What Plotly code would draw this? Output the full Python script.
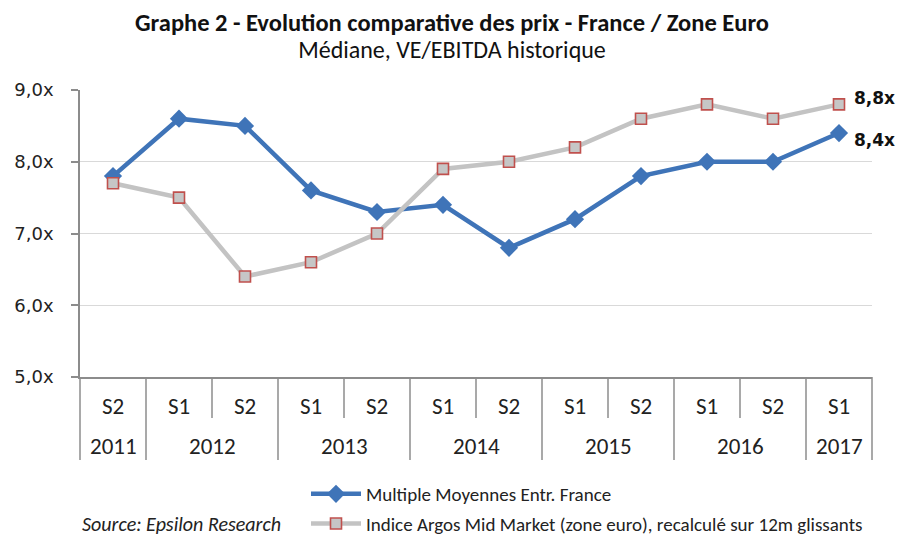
import plotly.graph_objects as go
from itertools import groupby

# ---- data ----
semesters = ["S2", "S1", "S2", "S1", "S2", "S1", "S2", "S1", "S2", "S1", "S2", "S1"]
years = ["2011", "2012", "2012", "2013", "2013", "2014", "2014", "2015", "2015", "2016", "2016", "2017"]
france_multiple = [7.8, 8.6, 8.5, 7.6, 7.3, 7.4, 6.8, 7.2, 7.8, 8.0, 8.0, 8.4]
argos_index = [7.7, 7.5, 6.4, 6.6, 7.0, 7.9, 8.0, 8.2, 8.6, 8.8, 8.6, 8.8]
y_ticks = [5.0, 6.0, 7.0, 8.0, 9.0]
series_names = ["Multiple Moyennes Entr. France",
                "Indice Argos Mid Market (zone euro), recalculé sur 12m glissants"]
title_text = "Graphe 2 - Evolution comparative des prix - France / Zone Euro"
subtitle_text = "Médiane, VE/EBITDA historique"
source_text = "Source: Epsilon Research"

def fmt(v):
    return f"{v:.1f}x".replace(".", ",")

categories = [f"{s} {y}" for s, y in zip(semesters, years)]
n = len(categories)

CAL = "Carlito, Lato, sans-serif"
VER = "DejaVu Sans, Verdana, sans-serif"
AXIS_GREY = "#8c8c8c"

# page body has an 8px margin: figure is laid out in page pixels minus that offset
PAGE_OFF = 8
W, H = 897, 528
PLOT_L, PLOT_R, PLOT_T, PLOT_B = 80, 872, 90, 377   # in page pixels
ML, MR = PLOT_L - PAGE_OFF, W - (PLOT_R - PAGE_OFF)
MT, MB = PLOT_T - PAGE_OFF, H - (PLOT_B - PAGE_OFF)
plot_h = PLOT_B - PLOT_T
plot_w = PLOT_R - PLOT_L

def py(page_y):
    return (PLOT_B - page_y) / plot_h

def px(page_x):
    return (page_x - PLOT_L) / plot_w

fig = go.Figure()
fig.add_trace(go.Scatter(
    x=categories, y=france_multiple, name=series_names[0], mode="lines+markers",
    line=dict(color="#3f74b8", width=4.5),
    marker=dict(symbol="diamond", size=14, color="#3f74b8"),
    legendgroup="a",
))
fig.add_trace(go.Scatter(
    x=categories, y=argos_index, name=series_names[1], mode="lines+markers",
    line=dict(color="#c3c3c3", width=4.5),
    marker=dict(symbol="square", size=11, color="#c6c6c6",
                line=dict(color="#c0504d", width=1.6)),
    legendgroup="b",
))

inner_depth = py(418)
outer_depth = py(460)

shapes = []
for k in range(n + 1):
    full = k == 0 or k == n or years[k] != years[k - 1]
    shapes.append(dict(type="line", xref="paper", yref="paper",
                       x0=k / n, x1=k / n, y0=0, y1=outer_depth if full else inner_depth,
                       line=dict(color=AXIS_GREY, width=1.5)))

annotations = []
for i, s in enumerate(semesters):
    annotations.append(dict(x=(i + 0.5) / n, y=py(406), xref="paper", yref="paper",
                            text=s, showarrow=False, xanchor="center", yanchor="middle",
                            font=dict(family=CAL, size=23, color="#222")))
idx = 0
for yr, grp in groupby(years):
    cnt = len(list(grp))
    annotations.append(dict(x=(idx + cnt / 2) / n, y=py(446), xref="paper", yref="paper",
                            text=yr, showarrow=False, xanchor="center", yanchor="middle",
                            font=dict(family=CAL, size=23, color="#222")))
    idx += cnt

# end labels
annotations.append(dict(x=categories[-1], y=argos_index[-1], xref="x", yref="y",
                        text=f"<b>{fmt(argos_index[-1])}</b>", showarrow=False,
                        xanchor="left", xshift=13, yshift=6,
                        font=dict(family=VER, size=17, color="#111")))
annotations.append(dict(x=categories[-1], y=france_multiple[-1], xref="x", yref="y",
                        text=f"<b>{fmt(france_multiple[-1])}</b>", showarrow=False,
                        xanchor="left", xshift=13, yshift=-7,
                        font=dict(family=VER, size=17, color="#111")))

# title + subtitle as one two-line text (line height from the base font size)
annotations.append(dict(
    x=px(452), y=py(36), xref="paper", yref="paper",
    text=(f"<span style='font-size:24.5px'><b>{title_text}</b></span><br>"
          f"<span style='font-size:24px'>{subtitle_text}</span>"),
    showarrow=False, xanchor="center", yanchor="middle",
    font=dict(family=CAL, size=20.5, color="#111")))

annotations.append(dict(x=px(80), y=py(524), xref="paper", yref="paper",
                        text=f"<i>{source_text}</i>", showarrow=False,
                        xanchor="left", yanchor="middle",
                        font=dict(family=CAL, size=20, color="#222")))

fig.update_layout(
    width=W, height=H,
    margin=dict(l=ML, r=MR, t=MT, b=MB, autoexpand=False),
    paper_bgcolor="white", plot_bgcolor="white",
    showlegend=True,
    legend=dict(x=px(306), y=py(475), xanchor="left", yanchor="top",
                orientation="v", traceorder="grouped", tracegroupgap=2,
                itemwidth=50, font=dict(family=CAL, size=19, color="#222"),
                bgcolor="rgba(0,0,0,0)"),
    shapes=shapes, annotations=annotations,
)
fig.update_xaxes(type="category", range=[-0.5, n - 0.5], showticklabels=False,
                 showgrid=False, showline=True, linecolor=AXIS_GREY, linewidth=1.5,
                 ticks="", zeroline=False, automargin=False)
fig.update_yaxes(range=[5, 9], tickvals=y_ticks, ticktext=[fmt(v) for v in y_ticks],
                 showgrid=True, gridcolor="#d9d9d9", gridwidth=1.2,
                 showline=True, linecolor=AXIS_GREY, linewidth=1.5,
                 ticks="outside", ticklen=7, tickcolor=AXIS_GREY, tickwidth=1.5,
                 ticklabelstandoff=14, automargin=False,
                 tickfont=dict(family=VER, size=18, color="#222"), zeroline=False)

fig.write_html("out.html")
